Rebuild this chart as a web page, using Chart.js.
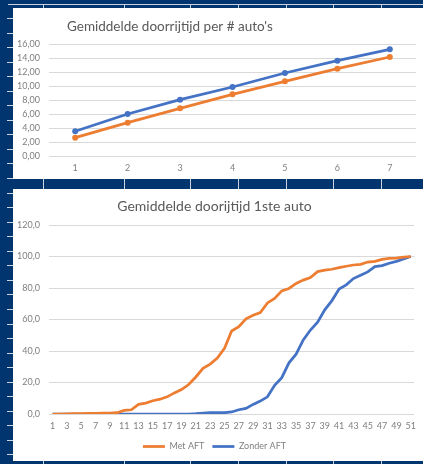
<!DOCTYPE html>
<html>
<head>
<meta charset="utf-8">
<script src="https://cdn.jsdelivr.net/npm/chart.js@4.4.1/dist/chart.umd.min.js"></script>
<style>
  body { margin: 0; width: 423px; height: 464px; overflow: hidden; position: relative; background: #00356f; font-family: Lato, sans-serif; }
  .marks { position: absolute; left: 7px; top: 18px; width: 6px; height: 446px;
    background: repeating-linear-gradient(to bottom, #c9d3e0 0px, #c9d3e0 1px, transparent 1px, transparent 14.55px); }
  .hline { position: absolute; left: 8px; top: 4px; width: 415px; height: 1px; background: #c9d3e0; }
  .vline { position: absolute; top: 4px; width: 1px; height: 460px; background: #c9d3e0; }
  .panel { position: absolute; left: 13px; width: 410px; background: #fff; }
</style>
</head>
<body>
<div class="marks"></div>
<div class="hline"></div>
<div class="vline" style="left:43px"></div>
<div class="vline" style="left:124px"></div>
<div class="vline" style="left:190px"></div>
<div class="vline" style="left:238px"></div>
<div class="vline" style="left:286px"></div>
<div class="vline" style="left:333px"></div>
<div class="vline" style="left:381px"></div>
<div class="panel" style="top:8px;height:171px"><canvas id="topChart" width="410" height="171"></canvas></div>
<div class="panel" style="top:189px;height:272px"><canvas id="bottomChart" width="410" height="272"></canvas></div>
<script>
const topLabels = ['1', '2', '3', '4', '5', '6', '7'];
const topBlue = [3.53, 6.0, 8.05, 9.86, 11.86, 13.62, 15.24];
const topOrange = [2.62, 4.76, 6.81, 8.81, 10.67, 12.48, 14.14];

const autoLabels = Array.from({ length: 51 }, (_, i) => String(i + 1));
const metAft = [0, 0, 0.1, 0.2, 0.3, 0.4, 0.4, 0.5, 0.6, 0.8, 2.3, 2.7, 6.1, 6.9, 8.4, 9.4, 10.9, 13.4, 15.5, 18.7,
  23.5, 29.0, 31.7, 35.5, 41.7, 52.7, 55.4, 60.4, 62.7, 64.4, 70.5, 73.4, 78.2, 79.7, 82.9, 85.0, 86.6, 90.4, 91.3, 91.9,
  92.9, 93.8, 94.6, 95.0, 96.5, 96.9, 98.2, 98.8, 99.0, 99.6, 100];
const zonderAft = [0, 0, 0, 0, 0, 0, 0, 0, 0, 0, 0, 0, 0, 0, 0, 0, 0, 0, 0, 0,
  0.2, 0.6, 0.8, 0.8, 0.8, 1.3, 2.7, 3.6, 6.1, 8.2, 10.9, 18.2, 23.1, 32.5, 38.0, 47.0, 53.3, 58.3, 66.1, 72.0,
  79.3, 82.0, 86.0, 88.1, 90.2, 93.6, 94.2, 95.7, 96.9, 98.4, 100];

const ORANGE = '#ed7d31';
const BLUE = '#4472c4';
const GRID = '#d9d9d9';
const TICK = '#7f7f7f';
const FONT = 'Lato';

Chart.defaults.font.family = FONT;
Chart.defaults.animation = false;

const leftTitle = {
  id: 'leftTitle',
  afterDraw(chart, args, opts) {
    const ctx = chart.ctx;
    ctx.save();
    ctx.font = `${opts.size}px ${FONT}`;
    ctx.fillStyle = '#595959';
    ctx.textBaseline = 'middle';
    ctx.fillText(opts.text, opts.x, opts.y);
    ctx.restore();
  },
};

new Chart(document.getElementById('topChart'), {
  type: 'line',
  data: {
    labels: topLabels,
    datasets: [
      { data: topOrange, borderColor: ORANGE, backgroundColor: ORANGE, borderWidth: 2.75,
        pointRadius: 3, pointBorderWidth: 0, tension: 0 },
      { data: topBlue, borderColor: BLUE, backgroundColor: BLUE, borderWidth: 2.75,
        pointRadius: 3, pointBorderWidth: 0, tension: 0 },
    ],
  },
  options: {
    responsive: false,
    layout: { padding: { top: 36, right: 7, left: 0, bottom: 0 } },
    scales: {
      x: {
        offset: true,
        grid: { display: false, drawTicks: false },
        border: { display: false },
        ticks: { color: TICK, font: { size: 9 }, padding: 7 },
        afterFit: (s) => { s.height = 23; },
      },
      y: {
        min: 0,
        max: 16,
        grid: { color: GRID, drawTicks: false },
        border: { display: false },
        ticks: { stepSize: 2, color: TICK, font: { size: 9 }, padding: 9,
          callback: (v) => v.toFixed(2).replace('.', ',') },
        afterFit: (s) => { s.width = 36; },
      },
    },
    plugins: {
      legend: { display: false },
      tooltip: { enabled: false },
      leftTitle: { text: "Gemiddelde doorrijtijd per # auto's", x: 54, y: 19, size: 13.5 },
    },
  },
  plugins: [leftTitle],
});

new Chart(document.getElementById('bottomChart'), {
  type: 'line',
  data: {
    labels: autoLabels,
    datasets: [
      { label: 'Met AFT', data: metAft, borderColor: ORANGE, backgroundColor: ORANGE, borderWidth: 2.75, pointRadius: 0, tension: 0 },
      { label: 'Zonder AFT', data: zonderAft, borderColor: BLUE, backgroundColor: BLUE, borderWidth: 2.75, pointRadius: 0, tension: 0 },
    ],
  },
  options: {
    responsive: false,
    layout: { padding: { top: 0, right: 7, left: 0, bottom: 0 } },
    scales: {
      x: {
        offset: true,
        grid: { display: false, drawTicks: false },
        border: { display: false },
        ticks: { color: TICK, font: { size: 9 }, padding: 7, autoSkip: false, maxRotation: 0,
          callback: (v, i) => (i % 2 === 0 ? autoLabels[i] : '') },
        afterFit: (s) => { s.height = 20; },
      },
      y: {
        min: 0,
        max: 120,
        grid: { color: GRID, drawTicks: false },
        border: { display: false },
        ticks: { stepSize: 20, color: TICK, font: { size: 9 }, padding: 9,
          callback: (v) => v.toFixed(1).replace('.', ',') },
        afterFit: (s) => { s.width = 36; },
      },
    },
    plugins: {
      title: { display: true, text: 'Gemiddelde doorijtijd 1ste auto', color: '#595959',
        font: { size: 14, weight: 'normal' }, padding: { top: 9.5, bottom: 9.7 } },
      legend: {
        position: 'bottom',
        labels: { usePointStyle: true, pointStyle: 'line', pointStyleWidth: 22, color: TICK,
          font: { size: 9 }, padding: 8 },
      },
      tooltip: { enabled: false },
    },
  },
});
</script>
</body>
</html>
